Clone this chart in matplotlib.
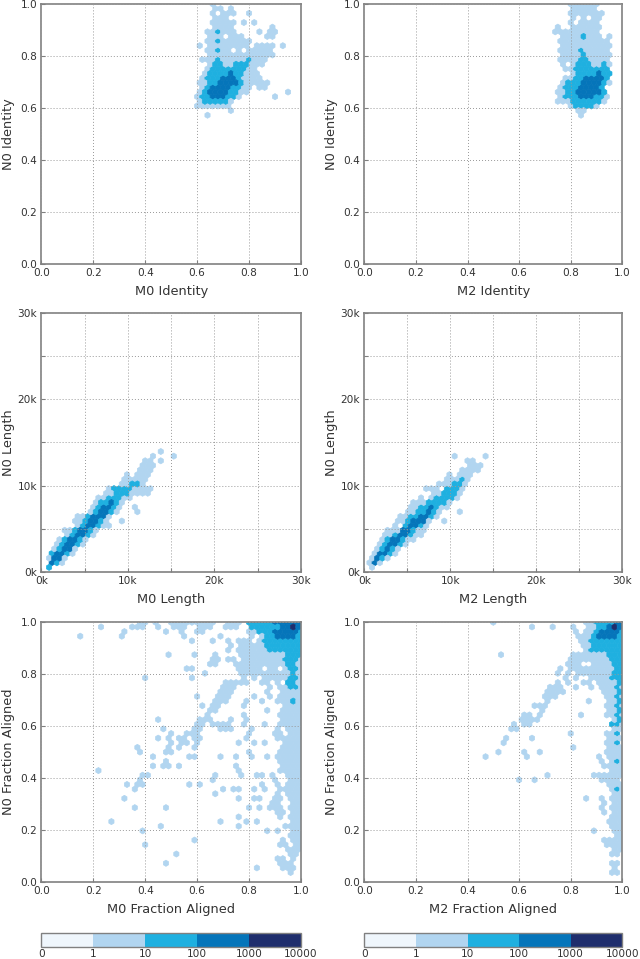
import numpy as np
import matplotlib
matplotlib.use("Agg")
import matplotlib.pyplot as plt
from matplotlib.colors import ListedColormap, BoundaryNorm
from matplotlib.cm import ScalarMappable

# Colour tiers of the log colour bar and a representative read count per tier
BIN_EDGES = [0, 1, 10, 100, 1000, 10000]
TIER_COUNTS = {"1": 5, "2": 50, "3": 500, "4": 5000}
TIER_COLORS = ["#eff6fc", "#b1d5f0", "#1fb0e0", "#0575ba", "#1f2e6d"]

# Each entry: hexagon row, first hexagon column, tier of successive bins ('.' = empty)
M0_IDENTITY_BINS = [
    (32, 32, "1"), (33, 36, "1"), (34, 30, "1111111"), (35, 30, "1222221"),
    (36, 30, "122333221"), (36, 45, "1"), (37, 30, "1233332211"), (37, 47, "1"),
    (38, 31, "1233332211.11"), (39, 30, "11223333211111"), (40, 31, "122233321111"),
    (41, 31, "12222322111"), (42, 32, "1222222211"), (43, 32, "12211222111"),
    (44, 31, "1112111112111"), (45, 32, "1111111111111"), (46, 32, "11211.1.11111"),
    (47, 30, "1.11111111.1111.1"), (48, 32, "112111111"), (49, 32, "111.111"),
    (49, 43, "11"), (50, 32, "112111"), (50, 42, "1.11"), (51, 33, "1111"), (51, 44, "1"),
    (52, 33, "11111.1.1"), (53, 33, "111"), (54, 33, "1.111"), (54, 40, "1"),
    (55, 33, "11.1"), (56, 33, "1"),
]
M2_IDENTITY_BINS = [
    (32, 42, "1"), (33, 41, "11"), (34, 40, "122221"), (35, 37, "1112222221"),
    (36, 38, "1222333221"), (37, 37, "1122333332"), (38, 38, "122233332"),
    (39, 38, "1222333321"), (40, 39, "112233332"), (41, 40, "12222322"),
    (42, 39, "112222222"), (43, 38, "1.12221121"), (44, 38, "1111221111"),
    (45, 38, "1111211111"), (46, 38, "1111211111"), (47, 38, "1111111111"),
    (48, 38, "1111111111"), (49, 38, "11112111.1"), (50, 37, "111111111"),
    (51, 37, "1..111111"), (52, 40, "1.1111"), (53, 40, "1.1.11"), (54, 40, "1111111"),
    (55, 40, "11111"), (56, 40, "111111"),
]
M0_LENGTH_BINS = [
    (1, 1, "2"), (2, 2, "321"), (3, 1, "1331"), (4, 2, "23321"), (5, 2, "12331"),
    (6, 3, "123321"), (7, 3, "123321"), (8, 5, "123321"), (9, 4, "1123321"),
    (10, 7, "123321"), (10, 13, "1"), (11, 6, "1123321"), (11, 15, "1"),
    (12, 7, "1123331"), (13, 9, "123321"), (13, 18, "1"), (14, 10, "123321"), (14, 18, "1"),
    (15, 10, "122321"), (16, 11, "112221"), (16, 17, "1"), (17, 12, "112221111"),
    (18, 13, "122221111"), (19, 15, "11221"), (20, 16, "11111"), (21, 16, "1.111"),
    (22, 19, "111"), (23, 19, "111"), (24, 20, "11"), (24, 23, "1"), (25, 21, "1"),
    (25, 25, "1"), (26, 23, "1"),
]
M2_LENGTH_BINS = [
    (1, 1, "1"), (2, 1, "131"), (3, 1, "1321"), (4, 2, "13321"), (5, 2, "12321"),
    (6, 3, "123321"), (7, 3, "1233211"), (8, 4, "11233211"), (9, 4, "11133211"),
    (10, 6, "1.23321"), (11, 6, "1123331"), (11, 15, "1"), (12, 7, "11223321"),
    (13, 8, "1122321"), (13, 18, "1"), (14, 9, "11223211"), (15, 9, "11122221"),
    (16, 11, "1.122221"), (17, 13, "112221"), (18, 12, "111.2221"), (19, 14, "111221"),
    (20, 16, "11121"), (21, 16, "1.111"), (22, 19, "1111"), (23, 20, "11"), (23, 22, "1"),
    (24, 20, "11"), (25, 17, "1"), (25, 23, "1"),
]
M0_FRACTION_BINS = [
    (56, 25, "111111111..111.22222333333"),
    (55, 25, "111..111..111..2222223343"),
    (54, 25, "..1..11........11222333332"),
    (53, 25, "..1......1.....1.12233332"),
    (52, 25, "....1...1..1.111.122222222"),
    (51, 25, "...........1.111112222222"),
    (50, 25, "...........1.1111112222222"),
    (49, 25, "....1...1....111111111222"),
    (48, 25, "........11.11.111111112221"),
    (47, 25, ".......11...1111111111221"),
    (46, 25, "...11........11111.11.1221"),
    (45, 25, "......1......111111111121"),
    (44, 25, "....1.........1.1.11111221"),
    (43, 25, "..........11111..11.1.221"),
    (42, 25, "..........111......1.11221"),
    (41, 25, ".........111......1..1111"),
    (40, 25, ".....1...111....1..1.11111"),
    (39, 25, "........111...1..1..11121"),
    (38, 25, "......1.11....1.......1111"),
    (37, 25, ".......11.........1..1111"),
    (36, 25, ".......1......1......11111"),
    (35, 25, ".....111...1..1......1111"),
    (34, 25, ".....11.1111..1...1..11111"),
    (33, 25, "....11...111...1....1.111"),
    (32, 25, "1..111.........1....11.111"),
    (31, 25, ".11.11........1.....11111"),
    (30, 25, "1.11.1.......1..1.1...1111"),
    (29, 25, ".1..1................1111"),
    (28, 25, "1..............1.....11111"),
    (27, 25, "...11....1..1..1..1.11111"),
    (26, 25, ".....................11111"),
    (25, 25, ".1..........1........1111"),
    (24, 25, ".............1.......11111"),
    (23, 25, "........1....1..11.1..111"),
    (22, 25, "........1...........1..111"),
    (21, 25, "...1.1...........1..1.111"),
    (20, 25, "..........1.11..1.1..11111"),
    (19, 25, "........1...........1.111"),
    (18, 25, ".............1..11..11.111"),
    (17, 25, "...................11..11"),
    (16, 25, "...............1.1.111.111"),
    (15, 25, "....................11.11"),
    (14, 25, ".............1.......1.111"),
    (13, 25, ".........1....1.1......11"),
    (12, 25, ".............1........1111"),
    (11, 25, "..................1.1..11"),
    (10, 25, ".......................111"),
    (9, 25, "....1................1.11"),
    (8, 25, ".....................11.11"),
    (7, 25, "......................111"),
    (6, 25, ".1.....................11"),
    (5, 25, "....................11.1"),
    (4, 25, ".....................111"),
    (3, 25, "................1....111"),
    (2, 25, ".......................1"),
]
M2_FRACTION_BINS = [
    (56, 25, "1.................11222233"),
    (55, 25, ".......1...1...1..1122343"),
    (54, 25, "................1.11233332"),
    (53, 25, "................111233332"),
    (52, 25, ".................112222222"),
    (51, 25, ".................11222222"),
    (50, 25, "..................12222222"),
    (49, 25, ".1.............1111111222"),
    (48, 25, "...............11111111222"),
    (47, 25, "..............111..111122"),
    (46, 25, ".............1.11111111122"),
    (45, 25, "............1.1.111111122"),
    (44, 25, "..............1.1..1111222"),
    (43, 25, "............1.1..11.11112"),
    (42, 25, "...........111..1..1.11121"),
    (41, 25, "..........1111.......1112"),
    (40, 25, "..........111.........1121"),
    (39, 25, "..........1.......1...112"),
    (38, 25, "........111...........1121"),
    (37, 25, ".........1............112"),
    (36, 25, "......11.1.......1....1121"),
    (35, 25, ".....1111..............12"),
    (34, 25, "....1.11...............221"),
    (33, 25, "...11..................11"),
    (32, 25, "...............1......112"),
    (31, 25, "..1....1..............111"),
    (30, 25, "..1...................112"),
    (29, 25, "...............1......111"),
    (28, 25, ".1....1..1............1111"),
    (27, 25, "......1.............1.111"),
    (26, 25, ".....................1.121"),
    (25, 25, ".....................1111"),
    (24, 25, ".......................111"),
    (23, 25, "..........1........111111"),
    (22, 25, ".....1..1............1111"),
    (21, 25, "......................111"),
    (20, 25, ".......................121"),
    (19, 25, ".......................11"),
    (18, 25, "..................1..1.111"),
    (17, 25, ".....................1.11"),
    (16, 25, ".....................1.111"),
    (15, 25, ".....................1.11"),
    (14, 25, ".......................111"),
    (13, 25, "......................111"),
    (12, 25, ".......................111"),
    (11, 25, "...................1...11"),
    (10, 25, "........................11"),
    (9, 25, ".....................1111"),
    (8, 25, "......................1111"),
    (7, 25, ".......................11"),
    (6, 25, ".......................11"),
    (4, 25, ".......................11"),
    (3, 25, ".......................1"),
    (2, 25, ".......................11"),
]

# Isolated single-tier bins read directly as (x, y) values
M0_FRACTION_LONE_X = [.148, .229, .319, .308, .349, .369, .379, .379, .389, .398, .45, .44, .479, .488,
                      .398, .45, .469, .45, .488, .369, .488, .379, .43, .43, .479, .479, .469, .488,
                      .218, .389, .408, .379, .369, .388, .329, .36, .319, .36, .479, .27, .459, .389,
                      .398, .479]
M0_FRACTION_LONE_Y = [.945, .98, .964, .945, .98, .98, .98, .996, .98, .996, .98, .996, .964, .874,
                      .784, .624, .589, .553, .553, .517, .517, .499, .482, .446, .499, .463, .446, .446,
                      .428, .408, .411, .393, .376, .376, .376, .358, .322, .286, .286, .232, .214, .196,
                      .142, .071]
M2_FRACTION_LONE_X = [.47, .50]
M2_FRACTION_LONE_Y = [.482, .996]

PANELS = [
    ("M0 Identity", "N0 Identity", M0_IDENTITY_BINS, [], [], 1.0),
    ("M2 Identity", "N0 Identity", M2_IDENTITY_BINS, [], [], 1.0),
    ("M0 Length", "N0 Length", M0_LENGTH_BINS, [], [], 30000),
    ("M2 Length", "N0 Length", M2_LENGTH_BINS, [], [], 30000),
    ("M0 Fraction Aligned", "N0 Fraction Aligned", M0_FRACTION_BINS, M0_FRACTION_LONE_X, M0_FRACTION_LONE_Y, 1.0),
    ("M2 Fraction Aligned", "N0 Fraction Aligned", M2_FRACTION_BINS, M2_FRACTION_LONE_X, M2_FRACTION_LONE_Y, 1.0),
]
UNIT_TICKS = [0.0, 0.2, 0.4, 0.6, 0.8, 1.0]
LENGTH_TICKS = [0, 5000, 10000, 15000, 20000, 25000, 30000]
LENGTH_LABELS = ["0k", "", "10k", "", "20k", "", "30k"]
COLORBAR_LABELS = ["0", "1", "10", "100", "1000", "10000"]

GRIDSIZE = 50
TEXT = "#333333"
SPINE = "#808080"
W, H = 640, 959
LEFTS = [41.3, 364.3]
WIDTHS = [259.7, 258.0]
TOPS = [4.0, 312.5, 622.3]
HEIGHT = 259.5

cmap = ListedColormap(TIER_COLORS)
norm = BoundaryNorm(BIN_EDGES, cmap.N)

plt.rcParams["font.family"] = "DejaVu Sans"
fig = plt.figure(figsize=(W / 100, H / 100), dpi=100, facecolor="white")


def bin_points(cells, extra_x, extra_y, vmax):
    ny = int(GRIDSIZE / np.sqrt(3))
    xs, ys, cs = [], [], []
    for row, col, tiers in cells:
        offset = 0.5 if row % 2 else 0.0
        for k, tier in enumerate(tiers):
            if tier == ".":
                continue
            xs.append((col + k + offset) / GRIDSIZE * vmax)
            ys.append(row / (2 * ny) * vmax)
            cs.append(TIER_COUNTS[tier])
    xs += list(extra_x)
    ys += list(extra_y)
    cs += [TIER_COUNTS["1"]] * len(extra_x)
    return np.array(xs), np.array(ys), np.array(cs)


for idx, (xlabel, ylabel, cells, ex, ey, vmax) in enumerate(PANELS):
    row_i, col_i = idx // 2, idx % 2
    ax = fig.add_axes([LEFTS[col_i] / W, 1 - (TOPS[row_i] + HEIGHT) / H,
                       WIDTHS[col_i] / W, HEIGHT / H])
    x, y, c = bin_points(cells, ex, ey, vmax)
    ax.hexbin(x, y, C=c, gridsize=GRIDSIZE, extent=(0, vmax, 0, vmax),
              reduce_C_function=np.max, cmap=cmap, norm=norm,
              edgecolors="face", linewidths=0.5)
    ax.set_xlim(0, vmax)
    ax.set_ylim(0, vmax)
    if vmax == 1.0:
        ax.set_xticks(UNIT_TICKS)
        ax.set_yticks(UNIT_TICKS)
        ax.set_xticklabels([f"{t:.1f}" for t in UNIT_TICKS])
        ax.set_yticklabels([f"{t:.1f}" for t in UNIT_TICKS])
    else:
        ax.set_xticks(LENGTH_TICKS)
        ax.set_yticks(LENGTH_TICKS)
        ax.set_xticklabels(LENGTH_LABELS)
        ax.set_yticklabels(LENGTH_LABELS)
    ax.set_axisbelow(False)
    ax.grid(True, linestyle=(0, (1, 2.1)), linewidth=0.7, color="#999999")
    ax.tick_params(direction="in", length=3, width=0.8, color=SPINE, labelcolor=TEXT,
                   labelsize=7.6, pad=3)
    for s in ax.spines.values():
        s.set_color(SPINE)
        s.set_linewidth(1.2)
    ax.set_xlabel(xlabel, fontsize=9.3, color=TEXT, labelpad=5)
    ax.set_ylabel(ylabel, fontsize=9.3, color=TEXT)
    ax.yaxis.set_label_coords(-0.103, 0.5)

for col_i in range(2):
    cax = fig.add_axes([LEFTS[col_i] / W, 1 - 946.5 / H, WIDTHS[col_i] / W, 13.5 / H])
    cb = fig.colorbar(ScalarMappable(norm=norm, cmap=cmap), cax=cax, orientation="horizontal",
                      spacing="uniform", ticks=BIN_EDGES)
    cb.ax.set_xticklabels(COLORBAR_LABELS)
    cb.ax.tick_params(length=0, labelsize=7.6, labelcolor=TEXT, pad=2)
    cb.outline.set_edgecolor(SPINE)
    cb.outline.set_linewidth(1.0)

fig.savefig("out.png", dpi=100)
